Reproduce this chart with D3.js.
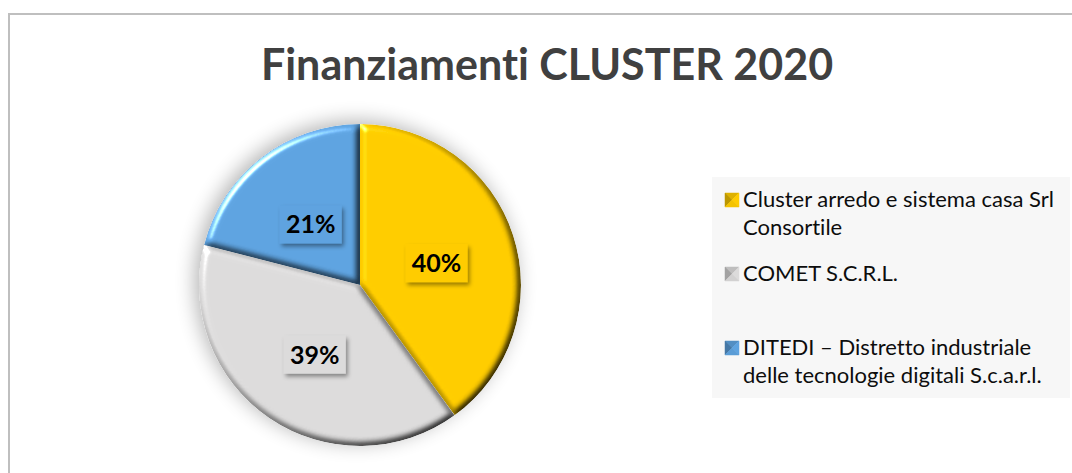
<!DOCTYPE html>
<html>
<head>
<meta charset="utf-8">
<script src="https://cdn.jsdelivr.net/npm/d3@7"></script>
<style>
  body { margin: 0; background: #fff; }
  svg { display: block; }
  text { font-variant-ligatures: none; }
</style>
</head>
<body>
<svg width="1072" height="473"></svg>
<script>
// dati
const categories = ['Cluster arredo e sistema casa Srl Consortile', 'COMET S.C.R.L.', 'DITEDI – Distretto industriale delle tecnologie digitali S.c.a.r.l.'];
const values = [40, 39, 21];
const colors = ['#FFCC00', '#DCDBDB', '#5EA3E0'];
const legendLines = [
    ['Cluster arredo e sistema casa Srl', 'Consortile'],
    ['COMET S.C.R.L.'],
    ['DITEDI – Distretto industriale', 'delle tecnologie digitali S.c.a.r.l.']
];
const title = 'Finanziamenti CLUSTER 2020';

const svg = d3.select('svg');
const font = 'Lato, "Open Sans", sans-serif';

const defs = svg.append('defs');

// ombra esterna della torta
const sh = defs.append('filter').attr('id', 'pieShadow')
    .attr('x', '-30%').attr('y', '-30%').attr('width', '160%').attr('height', '160%');
sh.append('feGaussianBlur').attr('in', 'SourceAlpha').attr('stdDeviation', 10).attr('result', 'b');
sh.append('feOffset').attr('in', 'b').attr('dx', -4).attr('dy', -3).attr('result', 'o');
sh.append('feComponentTransfer').attr('in', 'o').attr('result', 's')
    .append('feFuncA').attr('type', 'linear').attr('slope', 0.3);
const shm = sh.append('feMerge');
shm.append('feMergeNode').attr('in', 's');
shm.append('feMergeNode').attr('in', 'SourceGraphic');

// bevel delle fette
const bv = defs.append('filter').attr('id', 'bevel')
    .attr('color-interpolation-filters', 'sRGB')
    .attr('x', '-5%').attr('y', '-5%').attr('width', '110%').attr('height', '110%');
bv.append('feGaussianBlur').attr('in', 'SourceAlpha').attr('stdDeviation', 3.5).attr('result', 'blur');
bv.append('feDiffuseLighting').attr('in', 'blur').attr('surfaceScale', 5)
    .attr('diffuseConstant', 1.155).attr('lighting-color', '#fff').attr('result', 'diff')
    .append('feDistantLight').attr('azimuth', 225).attr('elevation', 60);
bv.append('feComposite').attr('in', 'SourceGraphic').attr('in2', 'diff')
    .attr('operator', 'arithmetic').attr('k1', 1).attr('k2', 0).attr('k3', 0).attr('k4', 0).attr('result', 'lit');
bv.append('feSpecularLighting').attr('in', 'blur').attr('surfaceScale', 5)
    .attr('specularConstant', 0.9).attr('specularExponent', 30).attr('lighting-color', '#fff').attr('result', 'spec')
    .append('feDistantLight').attr('azimuth', 225).attr('elevation', 25);
bv.append('feComposite').attr('in', 'spec').attr('in2', 'SourceAlpha').attr('operator', 'in').attr('result', 'specIn');
bv.append('feComposite').attr('in', 'lit').attr('in2', 'specIn')
    .attr('operator', 'arithmetic').attr('k1', 0).attr('k2', 1).attr('k3', 0.8).attr('k4', 0).attr('result', 'all');
bv.append('feComposite').attr('in', 'all').attr('in2', 'SourceAlpha').attr('operator', 'in');

// ombra etichette
defs.append('filter').attr('id', 'lblShadow')
    .attr('x', '-20%').attr('y', '-20%').attr('width', '150%').attr('height', '160%')
    .append('feDropShadow').attr('dx', 2).attr('dy', 3).attr('stdDeviation', 2)
    .attr('flood-color', '#000').attr('flood-opacity', 0.4);

// cornice
svg.append('rect')
    .attr('x', 9).attr('y', 14).attr('width', 1200).attr('height', 600)
    .attr('fill', '#fff').attr('stroke', '#BFBFBF').attr('stroke-width', 2);

// titolo
svg.append('text')
    .attr('x', 547).attr('y', 80)
    .attr('text-anchor', 'middle')
    .style('font-family', font).style('font-weight', 700).style('font-size', '43px')
    .style('fill', '#404040')
    .text(title);

// torta
const cx = 360, cy = 285, r = 161;
const pie = d3.pie().sort(null).value(d => d);
const arcs = pie(values);
const arc = d3.arc().innerRadius(0).outerRadius(r);
const labelArc = d3.arc().innerRadius(0).outerRadius(r);

const g = svg.append('g').attr('transform', `translate(${cx},${cy})`);
const slices = g.append('g').attr('filter', 'url(#pieShadow)');
slices.selectAll('path').data(arcs).join('path')
    .attr('d', arc)
    .attr('fill', (d, i) => colors[i])
    .attr('filter', 'url(#bevel)');

// etichette percentuali
const lbl = g.selectAll('g.lbl').data(arcs).join('g')
    .attr('class', 'lbl')
    .attr('transform', d => {
        const c = labelArc.centroid(d);
        return `translate(${c[0]},${c[1] + 3})`;
    });
lbl.append('rect')
    .attr('x', -31).attr('y', -19).attr('width', 62).attr('height', 38)
    .attr('fill', (d, i) => colors[i])
    .attr('filter', 'url(#lblShadow)');
lbl.append('text')
    .attr('text-anchor', 'middle').attr('y', 9)
    .style('font-family', font).style('font-weight', 700).style('font-size', '25px')
    .style('fill', '#000')
    .text(d => Math.round(d.data / d3.sum(values) * 100) + '%');

// legenda
const leg = svg.append('g');
leg.append('rect')
    .attr('x', 712).attr('y', 177).attr('width', 358).attr('height', 221)
    .attr('fill', '#F7F7F7');

const item = leg.selectAll('g.item').data(categories).join('g')
    .attr('class', 'item')
    .attr('transform', (d, i) => `translate(725,${207 + i * 74})`);

// marcatore a piramide
const s = 14;
const tri = [
    [[0, -s], [s, -s], [s / 2, -s / 2]],   // alto
    [[0, -s], [0, 0], [s / 2, -s / 2]],    // sinistra
    [[s, -s], [s, 0], [s / 2, -s / 2]],    // destra
    [[0, 0], [s, 0], [s / 2, -s / 2]]      // basso
];
const shade = [0.3, 0.6, 0, 0.1];
item.each(function (d, i) {
    const base = d3.color(colors[i]);
    const dark = d3.color(colors[i]).darker(1.6);
    d3.select(this).selectAll('path').data(tri).join('path')
        .attr('d', p => 'M' + p.join('L') + 'Z')
        .attr('fill', (p, j) => d3.interpolateRgb(base, dark)(shade[j]))
        .attr('stroke', (p, j) => d3.interpolateRgb(base, dark)(shade[j]))
        .attr('stroke-width', 0.5);
});

item.append('text')
    .attr('x', 18)
    .style('font-family', font).style('font-size', '22px').style('fill', '#0D0D0D')
    .selectAll('tspan').data((d, i) => legendLines[i]).join('tspan')
    .attr('x', 18).attr('dy', (d, j) => j === 0 ? 0 : 28)
    .text(d => d);
</script>
</body>
</html>
